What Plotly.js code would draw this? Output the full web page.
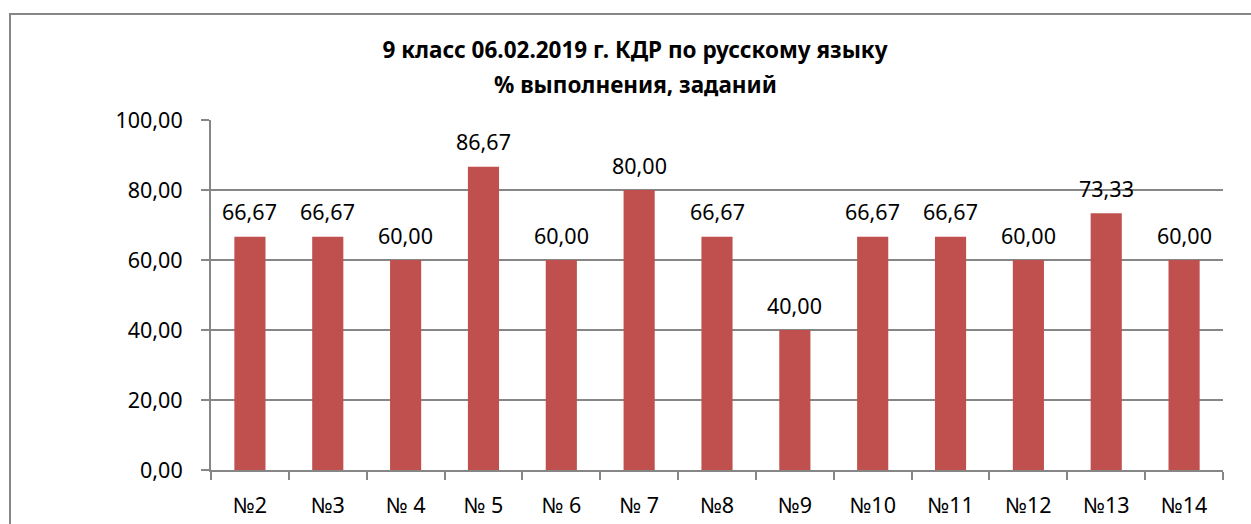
<!DOCTYPE html>
<html><head><meta charset="utf-8">
<script src="https://cdn.plot.ly/plotly-3.0.1.min.js"></script>
<style>html,body{margin:0;padding:0;background:#fff;}#chart{width:1251px;height:524px;}</style>
</head><body><div id="chart"></div>
<script>
const categories = ["№2","№3","№ 4","№ 5","№ 6","№ 7","№8","№9","№10","№11","№12","№13","№14"];
const values = [66.67,66.67,60.00,86.67,60.00,80.00,66.67,40.00,66.67,66.67,60.00,73.33,60.00];
const titleLines = ["9 класс 06.02.2019 г. КДР по русскому языку","% выполнения, заданий"];
const yTicks = [0,20,40,60,80,100];

const FONT = "Noto Sans, Open Sans, sans-serif";
const fmt = v => v.toFixed(2).replace('.', ',');

const trace = {
  type: 'bar', x: categories, y: values,
  marker: {color: '#C0504D'},
  hoverinfo: 'skip'
};

const annotations = categories.map((c, i) => ({
  x: c, y: values[i], xref: 'x', yref: 'y',
  text: fmt(values[i]), showarrow: false,
  yanchor: 'middle', yshift: 25,
  font: {family: FONT, size: 21.5, color: '#000'}
}));
annotations.push({
  xref: 'paper', yref: 'paper', x: (635 - 211) / 1012, y: (470 - 85) / 350,
  xanchor: 'center', yanchor: 'middle', showarrow: false,
  text: '<b>' + titleLines[1] + '</b>',
  font: {family: FONT, size: 22.5, color: '#000'}
});

const layout = {
  width: 1251, height: 524,
  margin: {l: 211, r: 28, t: 120, b: 54},
  paper_bgcolor: '#fff', plot_bgcolor: '#fff',
  separators: ', ',
  showlegend: false,
  bargap: 0.6,
  title: {
    text: '<b>' + titleLines[0] + '</b>',
    x: 635/1251, xref: 'container', xanchor: 'center',
    y: 1 - 50/524, yref: 'container', yanchor: 'middle',
    font: {family: FONT, size: 22.5, color: '#000'}
  },
  xaxis: {
    type: 'category', showgrid: false, zeroline: false,
    showline: true, linecolor: '#868686', linewidth: 2,
    ticks: 'outside', tickson: 'boundaries', ticklen: 8, tickcolor: '#868686', tickwidth: 2,
    tickfont: {family: FONT, size: 21.5, color: '#000'},
    ticklabelstandoff: 15, fixedrange: true
  },
  yaxis: {
    range: [0, 100], tickvals: yTicks, ticktext: yTicks.map(fmt),
    showgrid: true, gridcolor: '#868686', gridwidth: 1.5,
    zeroline: false, showline: true, linecolor: '#868686', linewidth: 2,
    ticks: 'outside', ticklen: 8, tickcolor: '#868686', tickwidth: 2,
    tickfont: {family: FONT, size: 21.5, color: '#000'},
    ticklabelstandoff: 14, fixedrange: true
  },
  annotations: annotations,
  shapes: [{
    type: 'rect', xref: 'paper', yref: 'paper',
    x0: (10 - 211) / 1012, x1: 1.2, y0: -1, y1: (470 - 14) / 350,
    line: {color: '#868686', width: 2}, fillcolor: 'rgba(0,0,0,0)', layer: 'below'
  }]
};

Plotly.newPlot('chart', [trace], layout, {staticPlot: true, displayModeBar: false});
</script></body></html>
